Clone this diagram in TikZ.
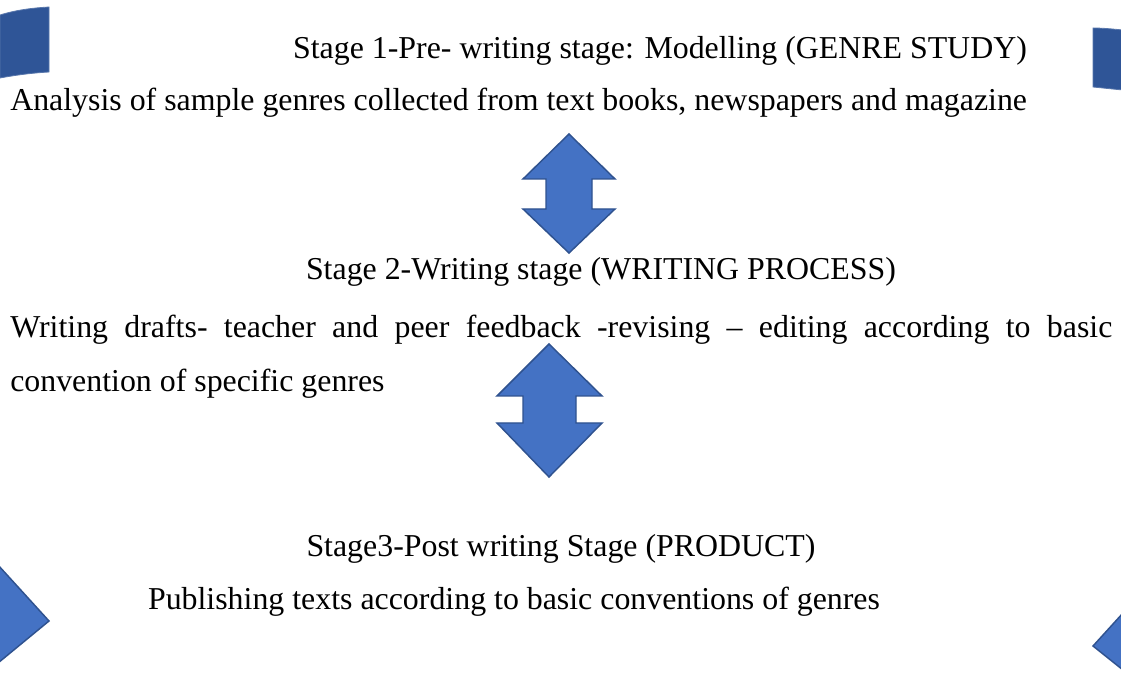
\documentclass[tikz,border=0pt]{standalone}
\usepackage{fontspec}
\setmainfont{Liberation Serif}
\usepackage{tikz}

\definecolor{arrowblue}{HTML}{4472C4}
\definecolor{arrowedge}{HTML}{2F528F}
\definecolor{darkblue}{HTML}{2F5597}

\tikzset{
  stagetext/.style={inner sep=0pt, font=\fontsize{23.9}{28}\selectfont},
  blockarrow/.style={fill=arrowblue, draw=arrowedge, line width=1.1pt, line join=miter},
  cornerpiece/.style={fill=darkblue, draw=darkblue!80!white, line width=0.6pt}
}

\begin{document}
\begin{tikzpicture}[x=0.75pt,y=-0.75pt]
  \useasboundingbox (0,0) rectangle (1121,691);

  % corner pieces of the cycle
  \fill[cornerpiece] (0,15) .. controls (16,10) and (32,8) .. (49,7) -- (49,72)
    .. controls (32,73) and (16,75) .. (0,78) -- cycle;
  \fill[cornerpiece] (1093,28) .. controls (1103,28) and (1112,29) .. (1123,30) -- (1123,90)
    .. controls (1112,89) and (1103,88) .. (1093,87) -- cycle;
  \filldraw[blockarrow] (-2,565) -- (49,621) -- (-2,663) -- cycle;
  \filldraw[blockarrow] (1123,613) -- (1093,646) -- (1123,670) -- cycle;

  % stage 1
  \node[stagetext] (stage1) at (660,51) {Stage 1-Pre- writing stage: Modelling (GENRE STUDY)};
  \node[stagetext, anchor=west] (analysis) at (10,103) {Analysis of sample genres collected from text books, newspapers and magazine};

  % arrow between stage 1 and 2
  \filldraw[blockarrow] (569,134) -- (615,179) -- (592,179) -- (592,209) -- (615,209)
    -- (569,253) -- (523,209) -- (546,209) -- (546,179) -- (523,179) -- cycle;

  % stage 2
  \node[stagetext] (stage2) at (601,272) {Stage 2-Writing stage (WRITING PROCESS)};
  \node[stagetext, anchor=west] (drafts) at (10,330)
    {\makebox[826.5pt][s]{Writing drafts- teacher and peer feedback -revising – editing according to basic}};
  \node[stagetext, anchor=west] (convention) at (10,384) {convention of specific genres};

  % arrow between stage 2 and 3
  \filldraw[blockarrow] (549,344) -- (602,396) -- (576,396) -- (576,423) -- (602,423)
    -- (549,477) -- (497,423) -- (523,423) -- (523,396) -- (497,396) -- cycle;

  % stage 3
  \node[stagetext] (stage3) at (561,549) {Stage3-Post writing Stage (PRODUCT)};
  \node[stagetext] (publish) at (514,602) {Publishing texts according to basic conventions of genres};
\end{tikzpicture}
\end{document}
